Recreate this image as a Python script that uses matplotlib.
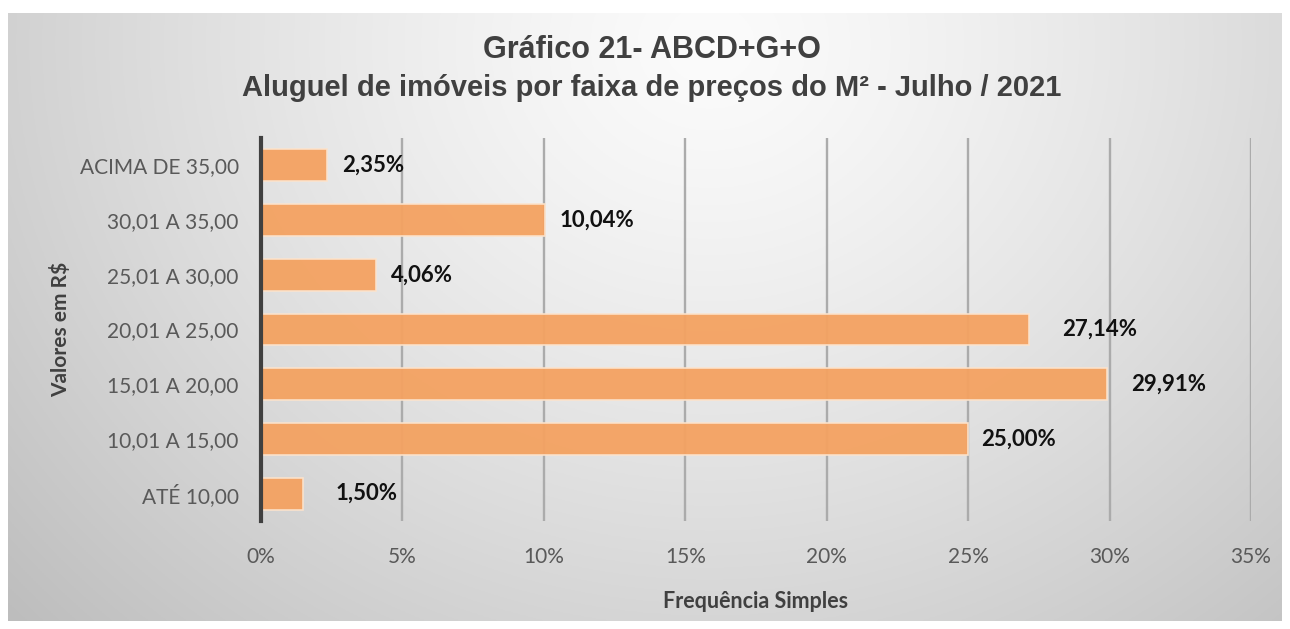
import numpy as np
import matplotlib
matplotlib.use("Agg")
import matplotlib.pyplot as plt
from matplotlib.ticker import FuncFormatter

categories = ["ATÉ 10,00", "10,01 A 15,00", "15,01 A 20,00", "20,01 A 25,00",
              "25,01 A 30,00", "30,01 A 35,00", "ACIMA DE 35,00"]
values = [1.50, 25.00, 29.91, 27.14, 4.06, 10.04, 2.35]
value_labels = ["1,50%", "25,00%", "29,91%", "27,14%", "4,06%", "10,04%", "2,35%"]
xticks = [0, 5, 10, 15, 20, 25, 30, 35]
title1 = "Gráfico 21- ABCD+G+O"
title2 = "Aluguel de imóveis por faixa de preços do M² - Julho / 2021"
xlabel = "Frequência Simples"
ylabel = "Valores em R$"

# label offsets in pixels (manual positioning as in the reference)
label_offsets = [32, 13, 24, 33, 15, 15, 15]

W, H = 1290, 629
fig = plt.figure(figsize=(W / 100, H / 100), dpi=100)
fig.patch.set_facecolor("white")

# background gradient panel
bg = fig.add_axes([8 / W, 1 - 621 / H, (1282 - 8) / W, (621 - 13) / H])
bg.set_axis_off()
ny, nx = 300, 600
yy, xx = np.mgrid[0:ny, 0:nx]
cx, cy = nx * 0.55, ny * 0.05
d = np.sqrt(((xx - cx) / (nx * 0.75)) ** 2 + ((yy - cy) / (ny * 1.4)) ** 2)
d = np.clip(d, 0, 1)
light, dark = 0.985, 0.74
g = light - (light - dark) * d ** 1.3
img = np.dstack([g, g, g])
bg.imshow(img, aspect="auto", extent=[0, 1, 0, 1], origin="upper")
bg.set_xlim(0, 1)
bg.set_ylim(0, 1)

ax = fig.add_axes([261 / W, 1 - 521 / H, (1251 - 261) / W, (521 - 138) / H])
ax.patch.set_alpha(0)

y = np.arange(len(categories))
ax.barh(y, values, height=0.58, color="#F4A261", edgecolor="#FCE3CC",
        linewidth=1.2, zorder=3, alpha=0.95)

ax.set_xlim(0, 35)
ax.set_ylim(-0.5, 6.5)
ax.set_xticks(xticks)
ax.xaxis.set_major_formatter(FuncFormatter(lambda v, p: f"{int(v)}%"))
ax.set_yticks(y)
ax.set_yticklabels(categories)
ax.grid(axis="x", color="#ABABAB", linewidth=1.7, zorder=0)
ax.set_axisbelow(True)
for s in ["top", "right", "bottom"]:
    ax.spines[s].set_visible(False)
ax.spines["left"].set_color("#404040")
ax.spines["left"].set_linewidth(3)
ax.spines["left"].set_zorder(5)
ax.tick_params(axis="both", length=0, colors="#595959", labelsize=15)
ax.tick_params(axis="x", pad=19)
ax.tick_params(axis="y", pad=16)
for lab in ax.get_xticklabels() + ax.get_yticklabels():
    lab.set_fontfamily("Lato")

for yi, v, lbl, off in zip(y, values, value_labels, label_offsets):
    ax.annotate(lbl, xy=(v, yi), xytext=(off * 0.72, 0), textcoords="offset points",
                ha="left", va="center", fontsize=16, fontweight="bold",
                color="#111111", family="Lato", zorder=6)

ax.set_xlabel(xlabel, fontsize=15.5, fontweight="bold", color="#404040",
              family="Lato", labelpad=14)
ax.xaxis.set_label_coords(0.5, -70 / 383)
ax.set_ylabel(ylabel, fontsize=15, fontweight="bold", color="#404040",
              family="Lato", labelpad=14)
ax.yaxis.set_label_coords(-190 / 990, 0.5)

tfam = ["Liberation Sans Narrow", "Liberation Sans", "DejaVu Sans"]
fig.text(652 / W, 1 - 50 / H, title1, ha="center", va="center", fontsize=22,
         fontweight="bold", color="#404040", family=tfam)
fig.text(652 / W, 1 - 88 / H, title2, ha="center", va="center", fontsize=21,
         fontweight="bold", color="#404040", family=tfam)

fig.savefig("out.png", dpi=100, facecolor="white")
